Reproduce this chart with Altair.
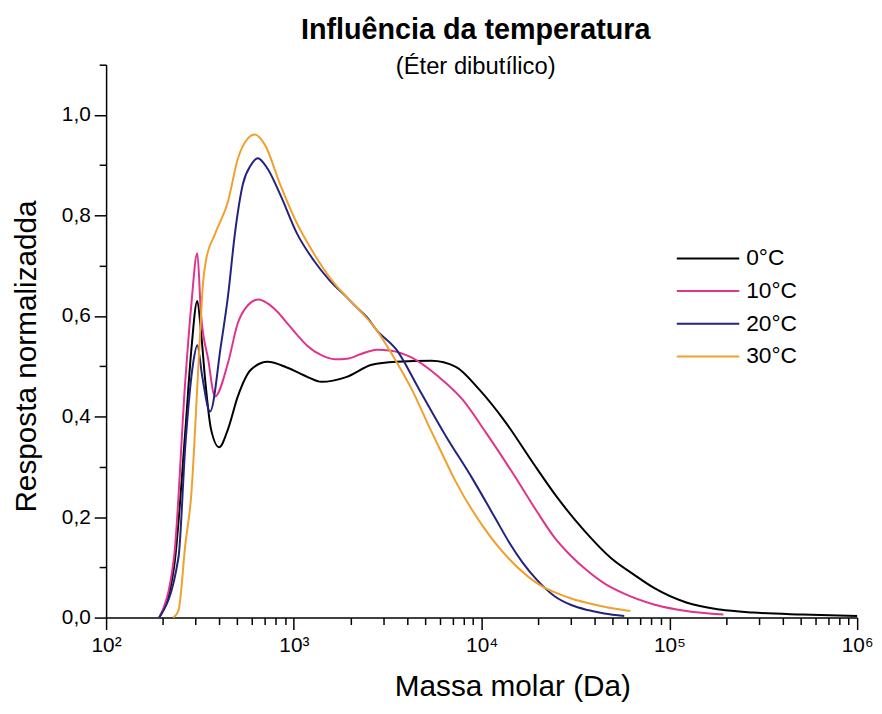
import altair as alt
import pandas as pd

# ---- data ----
series = ["0°C", "10°C", "20°C", "30°C"]
colors = ["#000000", "#e0348c", "#23237f", "#f0a02c"]

m_0 = [192, 230, 264, 284, 306, 320, 337, 362, 400, 446, 503, 590, 725, 925,
       1178, 1400, 1916, 2600, 3518, 5400, 7290, 9700, 13390, 18600, 25500,
       35400, 49000, 65000, 82800, 123000, 186000, 279000, 510000, 1000000]
r_0 = [0.0, 0.10, 0.37, 0.53, 0.63, 0.57, 0.473, 0.375, 0.339, 0.375, 0.44,
       0.493, 0.509, 0.497, 0.479, 0.469, 0.479, 0.503, 0.509, 0.511, 0.499,
       0.454, 0.389, 0.31, 0.237, 0.172, 0.118, 0.085, 0.059, 0.030, 0.016,
       0.010, 0.006, 0.003]

m_10 = [192, 230, 264, 284, 306, 320, 350, 380, 446, 503, 568, 650, 725, 819,
        925, 1043, 1178, 1400, 1650, 1916, 2300, 2760, 3300, 4200, 5900, 7900,
        10500, 14500, 19700, 24580, 29500, 36600, 45000, 55500, 82800, 123000,
        194000]
r_10 = [0.0, 0.12, 0.47, 0.62, 0.725, 0.605, 0.513, 0.44, 0.507, 0.586, 0.621,
        0.633, 0.625, 0.608, 0.585, 0.562, 0.541, 0.522, 0.514, 0.515, 0.525,
        0.533, 0.531, 0.518, 0.479, 0.434, 0.369, 0.29, 0.211, 0.158, 0.125,
        0.093, 0.068, 0.05, 0.026, 0.013, 0.006]

m_20 = [192, 243, 264, 291, 306, 325, 358, 409, 446, 485, 535, 590, 642, 725,
        845, 1043, 1280, 1550, 1916, 2164, 2444, 2760, 3518, 4650, 6455, 8950,
        11850, 14000, 16500, 19700, 24580, 30000, 36700, 45000, 57500]
r_20 = [0.0, 0.12, 0.34, 0.507, 0.542, 0.48, 0.41, 0.542, 0.64, 0.763, 0.862,
        0.90, 0.914, 0.893, 0.842, 0.763, 0.71, 0.671, 0.637, 0.617, 0.598,
        0.572, 0.533, 0.454, 0.361, 0.276, 0.197, 0.15, 0.11, 0.075, 0.042,
        0.025, 0.015, 0.008, 0.003]

m_30 = [228, 243, 264, 284, 310, 329, 340, 380, 446, 503, 568, 620, 700, 845,
        1043, 1280, 1550, 1916, 2164, 2760, 3390, 4300, 5250, 6455, 7290,
        10100, 13900, 17600, 21000, 24580, 30000, 36700, 47000, 62000]
r_30 = [0.0, 0.014, 0.144, 0.243, 0.499, 0.67, 0.71, 0.763, 0.828, 0.913,
        0.953, 0.961, 0.941, 0.862, 0.783, 0.724, 0.677, 0.637, 0.617, 0.572,
        0.519, 0.45, 0.38, 0.31, 0.27, 0.183, 0.118, 0.082, 0.062, 0.05,
        0.038, 0.029, 0.02, 0.013]

x_ticks = [m * 10 ** e for e in range(2, 6) for m in range(1, 10)] + [10 ** 6]
y_ticks = [0.0, 0.1, 0.2, 0.3, 0.4, 0.5, 0.6, 0.7, 0.8, 0.9, 1.0, 1.1]

rows = []
for name, ms, rs in zip(series, [m_0, m_10, m_20, m_30], [r_0, r_10, r_20, r_30]):
    for m, r in zip(ms, rs):
        rows.append({"serie": name, "massa": m, "resp": r})
df = pd.DataFrame(rows)

FONT = "Liberation Sans"

x_major = "indexof([100,1000,10000,100000,1000000], datum.value) >= 0"
x_label = ("datum.value == 100 ? '10²' : datum.value == 1000 ? '10³' : "
           "datum.value == 10000 ? '10⁴' : datum.value == 100000 ? '10⁵' : "
           "datum.value == 1000000 ? '10⁶' : ''")
y_major = "round(datum.value*10) % 2 == 0"
y_label = ("round(datum.value*10) % 2 == 0 && datum.value < 1.05 ? "
           "replace(format(datum.value, '.1f'), '.', ',') : ''")

chart = alt.Chart(df).mark_line(interpolate="monotone", strokeWidth=2).encode(
    x=alt.X(
        "massa:Q",
        scale=alt.Scale(type="log", domain=[100, 1000000], nice=False),
        axis=alt.Axis(
            values=x_ticks, labelExpr=x_label, grid=False,
            tickSize={"condition": {"test": x_major, "value": 12}, "value": 7},
            labelPadding=5, labelFlush=False, labelOverlap=False,
            labelFontSize=21, title="Massa molar (Da)",
            titleFontSize=30, titleX=410, titleY=79,
            titleBaseline="alphabetic",
        ),
    ),
    y=alt.Y(
        "resp:Q",
        scale=alt.Scale(domain=[0, 1.1], nice=False),
        axis=alt.Axis(
            values=y_ticks, labelExpr=y_label, grid=False,
            tickSize={"condition": {"test": y_major, "value": 12}, "value": 7},
            labelPadding=4, labelFlush=False, labelOverlap=False,
            labelFontSize=21, title="Resposta normalizadda",
            titleFontSize=30, titleX=-80, titleY=294, titleBaseline="middle",
        ),
    ),
    color=alt.Color(
        "serie:N",
        scale=alt.Scale(domain=series, range=colors),
        legend=alt.Legend(
            title=None, orient="none", legendX=575, legendY=183,
            symbolType="stroke", symbolSize=3969, symbolStrokeWidth=2,
            clipHeight=25, rowPadding=8, padding=0, labelOffset=6,
            labelFont=FONT, labelFontSize=23, labelColor="#000000",
        ),
    ),
).properties(
    width=758,
    height=558,
    padding={"left": 99, "top": 54, "right": 17, "bottom": 86},
    autosize=alt.AutoSizeParams(type="none"),
    title=alt.TitleParams(
        text="Influência da temperatura",
        subtitle="(Éter dibutílico)",
        font=FONT, fontSize=29, fontWeight="bold", color="#000000",
        subtitleFont=FONT, subtitleFontSize=24, subtitleColor="#000000",
        subtitlePadding=10, anchor="middle", offset=-25, dx=-6,
    ),
).configure_axis(
    domainColor="#000000", domainWidth=1.5, tickColor="#000000", tickWidth=1.5,
    labelColor="#000000", labelFont=FONT, titleFont=FONT,
    titleFontWeight="normal", titleColor="#000000",
).configure_view(strokeWidth=0)

chart.save("out.html", embed_options={"renderer": "svg", "actions": False})
